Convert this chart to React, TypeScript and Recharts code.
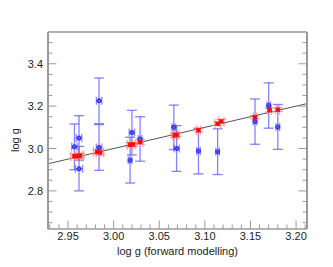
import {
  ScatterChart,
  Scatter,
  XAxis,
  YAxis,
  ErrorBar,
  ReferenceLine,
} from 'recharts';

// blue: log g from the other method, with large errors
const blueX = [2.957, 2.962, 2.962, 2.984, 2.984, 3.018, 3.02, 3.029, 3.066, 3.069, 3.093, 3.114, 3.155, 3.17, 3.18];
const blueY = [3.008, 3.05, 2.905, 3.225, 3.005, 2.945, 3.075, 3.045, 3.1, 3.0, 2.988, 2.985, 3.127, 3.203, 3.102];
const blueErrY = [0.108, 0.105, 0.105, 0.108, 0.108, 0.108, 0.105, 0.105, 0.105, 0.108, 0.108, 0.108, 0.107, 0.107, 0.106];
const blueErrX = [0.003, 0.003, 0.004, 0.003, 0.003, 0.002, 0.003, 0.002, 0.002, 0.003, 0.002, 0.002, 0.002, 0.002, 0.002];

// red: log g with small errors, close to the 1:1 line
const redX = [2.957, 2.961, 2.963, 2.982, 2.985, 3.018, 3.021, 3.029, 3.067, 3.069, 3.093, 3.114, 3.118, 3.155, 3.171, 3.18];
const redY = [2.964, 2.964, 2.967, 2.984, 2.981, 3.018, 3.019, 3.031, 3.062, 3.065, 3.086, 3.117, 3.128, 3.148, 3.182, 3.183];
const redErrY = [0.01, 0.01, 0.01, 0.01, 0.012, 0.01, 0.01, 0.012, 0.01, 0.01, 0.008, 0.008, 0.01, 0.008, 0.01, 0.008];
const redErrX = [0.004, 0.004, 0.004, 0.004, 0.004, 0.003, 0.003, 0.003, 0.003, 0.003, 0.002, 0.003, 0.003, 0.002, 0.002, 0.002];

const xDomain = [2.928, 3.212];
const yDomain = [2.62, 3.55];

const xTicks = [2.93, 2.94, 2.95, 2.96, 2.97, 2.98, 2.99, 3.0, 3.01, 3.02, 3.03, 3.04, 3.05, 3.06, 3.07, 3.08, 3.09, 3.1, 3.11, 3.12, 3.13, 3.14, 3.15, 3.16, 3.17, 3.18, 3.19, 3.2, 3.21];
const xMajor = [2.95, 3.0, 3.05, 3.1, 3.15, 3.2];
const yTicks = [2.65, 2.7, 2.75, 2.8, 2.85, 2.9, 2.95, 3.0, 3.05, 3.1, 3.15, 3.2, 3.25, 3.3, 3.35, 3.4, 3.45, 3.5];
const yMajor = [2.8, 3.0, 3.2, 3.4];

const blueData = blueX.map((x, i) => ({ x, y: blueY[i], ex: blueErrX[i], ey: blueErrY[i] }));
const redData = redX.map((x, i) => ({ x, y: redY[i], ex: redErrX[i], ey: redErrY[i] }));

const FRAME = '#9a9a9a';
const FONT = '"Liberation Sans", Arial, sans-serif';

const isMajor = (v: number, majors: number[]) => majors.some((m) => Math.abs(m - v) < 1e-6);

function makeTick(side: 'bottom' | 'top' | 'left' | 'right') {
  return (props: any) => {
    const { x, y, payload } = props;
    const v = payload.value as number;
    const major = side === 'bottom' || side === 'top' ? isMajor(v, xMajor) : isMajor(v, yMajor);
    const len = major ? 8.5 : 4.5;
    if (side === 'bottom') {
      return (
        <g>
          <line x1={x} y1={y} x2={x} y2={y - len} stroke={FRAME} strokeWidth={1} />
          {major && (
            <text x={x} y={y + 11} textAnchor="middle" fontSize={11} fontFamily={FONT} fill="#222">
              {v.toFixed(2)}
            </text>
          )}
        </g>
      );
    }
    if (side === 'top') {
      return <line x1={x} y1={y} x2={x} y2={y + len} stroke={FRAME} strokeWidth={1} />;
    }
    if (side === 'left') {
      return (
        <g>
          <line x1={x} y1={y} x2={x + len} y2={y} stroke={FRAME} strokeWidth={1} />
          {major && (
            <text x={x - 5} y={y + 4} textAnchor="end" fontSize={11} fontFamily={FONT} fill="#222">
              {v.toFixed(1)}
            </text>
          )}
        </g>
      );
    }
    return <line x1={x} y1={y} x2={x - len} y2={y} stroke={FRAME} strokeWidth={1} />;
  };
}

const BlueDot = (props: any) => {
  const { cx, cy } = props;
  return (
    <g>
      <circle cx={cx} cy={cy} r={2.5} fill="#2a2ae8" />
      <path d={`M${cx - 2} ${cy - 2}L${cx + 2} ${cy + 2}M${cx - 2} ${cy + 2}L${cx + 2} ${cy - 2}`} stroke="#7878ff" strokeWidth={0.8} />
    </g>
  );
};

const RedDot = (props: any) => {
  const { cx, cy } = props;
  return (
    <g>
      <rect x={cx - 2.2} y={cy - 2.2} width={4.4} height={4.4} fill="#ff1a1a" />
      <path d={`M${cx - 2} ${cy - 2}L${cx + 2} ${cy + 2}M${cx - 2} ${cy + 2}L${cx + 2} ${cy - 2}`} stroke="#d80000" strokeWidth={0.8} />
    </g>
  );
};

export default function App() {
  return (
    <div style={{ position: 'absolute', left: 0, top: 0, background: '#fff' }}>
      <ScatterChart width={333} height={267} margin={{ top: 0, right: 0, bottom: 0, left: 0 }}>
        <XAxis
          xAxisId={0}
          dataKey="x"
          type="number"
          domain={xDomain}
          allowDataOverflow
          ticks={xTicks}
          interval={0}
          height={38}
          tickSize={0}
          tickMargin={0}
          tickLine={false}
          axisLine={{ stroke: FRAME, strokeWidth: 1.5 }}
          tick={makeTick('bottom')}
          label={{
            value: 'log g (forward modelling)',
            position: 'insideBottom',
            offset: 12,
            fontSize: 11,
            fontFamily: FONT,
            fill: '#222',
          }}
        />
        <XAxis
          xAxisId="top"
          orientation="top"
          type="number"
          domain={xDomain}
          allowDataOverflow
          ticks={xTicks}
          interval={0}
          height={32}
          tickSize={0}
          tickMargin={0}
          tickLine={false}
          axisLine={{ stroke: FRAME, strokeWidth: 1.5 }}
          tick={makeTick('top')}
        />
        <YAxis
          yAxisId={0}
          dataKey="y"
          type="number"
          domain={yDomain}
          allowDataOverflow
          ticks={yTicks}
          interval={0}
          width={48}
          tickSize={0}
          tickMargin={0}
          tickLine={false}
          axisLine={{ stroke: FRAME, strokeWidth: 2 }}
          tick={makeTick('left')}
          label={{
            content: () => (
              <text
                x={19}
                y={140}
                transform="rotate(-90 19 140)"
                textAnchor="middle"
                fontSize={11}
                fontFamily={FONT}
                fill="#222"
              >
                log g
              </text>
            ),
          }}
        />
        <YAxis
          yAxisId="right"
          orientation="right"
          type="number"
          domain={yDomain}
          allowDataOverflow
          ticks={yTicks}
          interval={0}
          width={26}
          tickSize={0}
          tickMargin={0}
          tickLine={false}
          axisLine={{ stroke: FRAME, strokeWidth: 2 }}
          tick={makeTick('right')}
        />
        <ReferenceLine
          segment={[
            { x: xDomain[0], y: xDomain[0] },
            { x: xDomain[1], y: xDomain[1] },
          ]}
          stroke="#555"
          strokeWidth={1}
          ifOverflow="hidden"
        />
        <Scatter data={blueData} shape={BlueDot} isAnimationActive={false}>
          <ErrorBar dataKey="ey" direction="y" width={5} stroke="#5a5aff" strokeWidth={1.3} strokeOpacity={0.75} />
          <ErrorBar dataKey="ex" direction="x" width={4} stroke="#5a5aff" strokeWidth={1.2} strokeOpacity={0.75} />
        </Scatter>
        <Scatter data={redData} shape={RedDot} isAnimationActive={false}>
          <ErrorBar dataKey="ey" direction="y" width={5} stroke="#ff8080" strokeWidth={1.2} strokeOpacity={0.75} />
          <ErrorBar dataKey="ex" direction="x" width={5} stroke="#ff8080" strokeWidth={1.2} strokeOpacity={0.75} />
        </Scatter>
      </ScatterChart>
    </div>
  );
}
